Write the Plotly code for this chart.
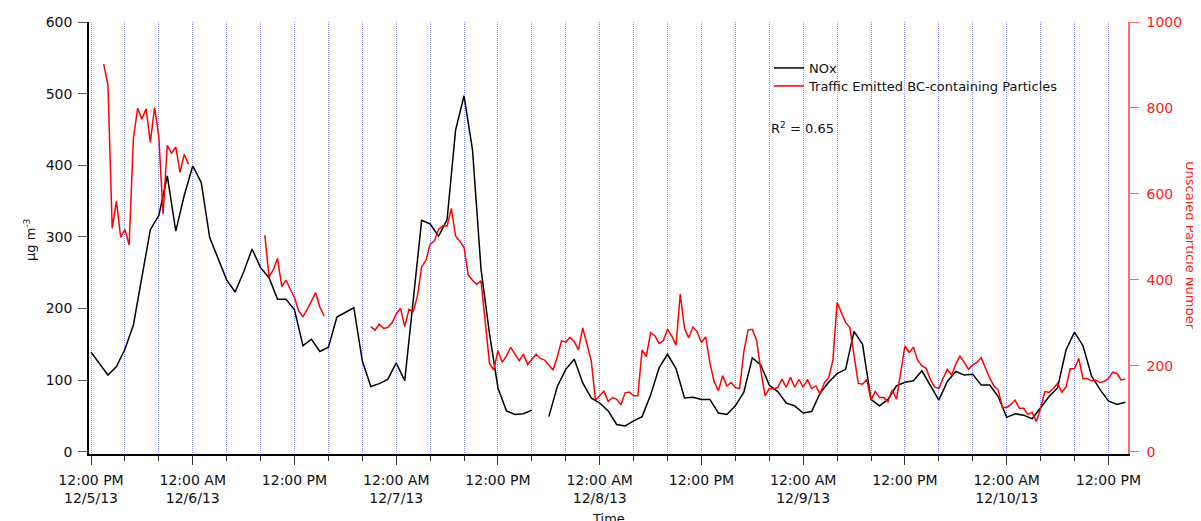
import datetime as dt
import plotly.graph_objects as go

# ---------------- data ----------------
start = dt.datetime(2013, 12, 5, 12, 0)

# NOx, hourly from 12/5/13 12:00 PM (µg m-3); None = missing
nox = [139, 123, 107, 119, 143, 177, 243, 310, 330, 385, 308, 358, 399, 376, 299, 270,
       240, 223, 251, 283, 257, 243, 213, 213, 198, 148, 157, 140, 146, 188, 194, 201,
       127, 91, 95, 101, 124, 99, 211, 323, 318, 301, 324, 449, 497, 421, 255, 165,
       89, 57, 52, 53, 58, None, 49, 91, 115, 129, 96, 75, 68, 57, 38, 36,
       43, 49, 79, 117, 136, 116, 75, 76, 73, 73, 54, 52, 64, 83, 131, 121,
       93, 84, 68, 64, 54, 56, 82, 97, 109, 115, 168, 150, 73, 64, 73, 92,
       97, 99, 113, 92, 72, 98, 112, 107, 108, 93, 93, 77, 48, 53, 51, 46,
       62, 77, 89, 142, 167, 148, 106, 87, 71, 66, 69]

# Traffic emitted BC-containing particles, every 30 min from 12/5/13 12:00 PM
bc = ([None, None, None,
       902, 853, 520, 583, 499, 517, 481, 729, 799, 774, 798, 720, 801, 733, 553, 713,
       695, 709, 650, 692, 669]
      + [None] * 17
      + [504, 407, 423, 450, 384, 399, 378, 359, 327, 314, 331, 349, 370, 336, 316]
      + [None] * 10
      + [291, 283, 297, 287, 289, 300, 320, 334, 291, 331, 326, 362, 430, 445, 483, 490,
         518, 525, 525, 566, 502, 490, 475, 411, 399, 389, 398, 299, 206, 190, 235, 208,
         223, 243, 227, 212, 227, 203, 215, 227, 217, 213, 202, 190, 221, 258, 255, 266,
         256, 237, 288, 248, 212, 120, 130, 141, 117, 126, 122, 109, 137, 139, 130, 130,
         237, 221, 277, 270, 252, 258, 285, 269, 248, 367, 287, 265, 290, 279, 254, 267,
         206, 163, 142, 177, 153, 161, 149, 147, 233, 283, 285, 260, 190, 130, 147, 146,
         149, 169, 150, 173, 150, 168, 150, 168, 147, 153, 134, 161, 172, 212, 347, 322,
         301, 289, 221, 159, 157, 168, 120, 140, 126, 126, 116, 144, 122, 190, 246, 231,
         243, 213, 200, 194, 168, 151, 147, 171, 192, 178, 204, 223, 208, 192, 202, 208,
         219, 194, 171, 153, 144, 103, 103, 110, 120, 101, 101, 87, 92, 70, 101, 140,
         138, 147, 159, 138, 151, 193, 193, 217, 170, 170, 165, 167, 161, 164, 170, 185,
         182, 167, 169])

tick_labels = ["12:00 PM<br>12/5/13", "12:00 AM<br>12/6/13", "12:00 PM",
               "12:00 AM<br>12/7/13", "12:00 PM", "12:00 AM<br>12/8/13", "12:00 PM",
               "12:00 AM<br>12/9/13", "12:00 PM", "12:00 AM<br>12/10/13", "12:00 PM"]

# ---------------- derived x ----------------
t_nox = [start + dt.timedelta(hours=i) for i in range(len(nox))]
t_bc = [start + dt.timedelta(minutes=30 * i) for i in range(len(bc))]
tickvals = [start + dt.timedelta(hours=12 * i) for i in range(len(tick_labels))]
minor_vals = [start + dt.timedelta(hours=4 * i) for i in range(31)]
x_range = [start - dt.timedelta(hours=0.236), start + dt.timedelta(hours=122.31)]

FONT = "DejaVu Sans"
GRID = "#8f8fff"

# plot area (page pixels): x 89..1128, y 22..454 ; page has an 8 px body margin
PX0, PW, PY1, PH = 89, 1039, 454, 432


def px(x):
    return (x - PX0) / PW


def py(y):
    return (PY1 - y) / PH


fig = go.Figure()
fig.add_trace(go.Scatter(x=t_nox, y=nox, mode="lines", name="NOx",
                         line=dict(color="#000000", width=1.5), connectgaps=False,
                         legend="legend"))
fig.add_trace(go.Scatter(x=t_bc, y=bc, mode="lines",
                         name="Traffic Emitted BC-containing Particles",
                         line=dict(color="#ff0000", width=1.5), connectgaps=False,
                         yaxis="y2", legend="legend2"))

legend_common = dict(xanchor="left", yanchor="top", bgcolor="rgba(0,0,0,0)",
                     font=dict(size=13, color="#111111"))

fig.update_layout(
    template="none",
    width=1193, height=513,
    margin=dict(l=81, r=73, t=14, b=67, autoexpand=False),
    paper_bgcolor="white", plot_bgcolor="white",
    font=dict(family=FONT, size=14, color="#111111"),
    showlegend=True,
    legend=dict(x=px(769), y=py(53), **legend_common),
    legend2=dict(x=px(769), y=py(71), **legend_common),
    xaxis=dict(
        type="date", range=x_range, automargin=False,
        tickmode="array", tickvals=tickvals, ticktext=tick_labels,
        ticks="outside", ticklen=9, tickcolor="#333333", tickwidth=1,
        ticklabelstandoff=3,
        showline=True, linecolor="#000000", linewidth=1.5,
        showgrid=True, gridcolor=GRID, griddash="1px,1px", gridwidth=1,
        zeroline=False,
        tickfont=dict(size=14, color="#111111"),
        minor=dict(tickmode="array", tickvals=minor_vals, ticks="outside", ticklen=5,
                   tickcolor="#333333", showgrid=True, gridcolor=GRID,
                   griddash="1px,1px", gridwidth=1),
    ),
    yaxis=dict(
        range=[-3.21, 600], tickvals=[0, 100, 200, 300, 400, 500, 600], automargin=False,
        ticks="outside", ticklen=9, tickcolor="#555555", ticklabelstandoff=3,
        showline=True, linecolor="#000000", linewidth=1.5,
        showgrid=False, zeroline=False,
        tickfont=dict(size=14, color="#111111"),
    ),
    yaxis2=dict(
        range=[-5.35, 1000], tickvals=[0, 200, 400, 600, 800, 1000], automargin=False,
        overlaying="y", side="right", anchor="x",
        ticks="outside", ticklen=9, tickcolor="#ff6666", ticklabelstandoff=5,
        showline=True, linecolor="#ff6a6a", linewidth=1.5,
        showgrid=False, zeroline=False,
        tickfont=dict(size=14, color="#ff1a1a"),
    ),
    annotations=[
        dict(text="R<sup>2</sup> = 0.65", xref="paper", yref="paper",
             x=px(769), y=py(128), xanchor="left", yanchor="middle",
             showarrow=False, font=dict(size=13, color="#111111")),
        dict(text="Time", xref="paper", yref="paper",
             x=px(608), y=py(518), xanchor="center", yanchor="middle",
             showarrow=False, font=dict(size=13, color="#111111")),
        dict(text="μg m<sup>-3</sup>", xref="paper", yref="paper",
             x=px(30), y=py(240), xanchor="center", yanchor="middle",
             textangle=-90, showarrow=False, font=dict(size=13, color="#111111")),
        dict(text="Unscaled Particle Number", xref="paper", yref="paper",
             x=px(1191), y=py(245), xanchor="center", yanchor="middle",
             textangle=90, showarrow=False, font=dict(size=13, color="#ff1a1a")),
    ],
)

fig.write_html("out.html")
